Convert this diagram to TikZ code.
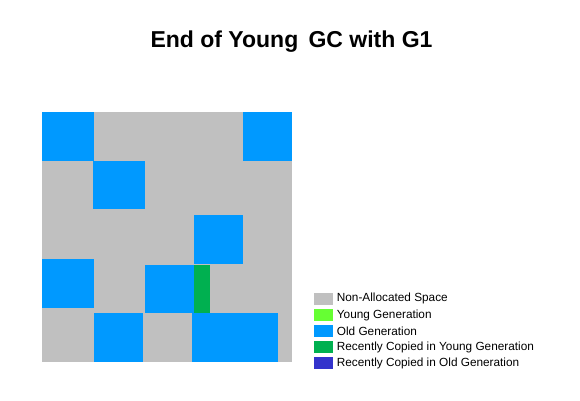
\documentclass[tikz,border=0pt]{standalone}
\usepackage{fontspec}
\setmainfont{Liberation Sans}
\definecolor{nonalloc}{HTML}{C0C0C0}
\definecolor{younggen}{HTML}{66FF33}
\definecolor{oldgen}{HTML}{0099FF}
\definecolor{copyyoung}{HTML}{00B050}
\definecolor{copyold}{HTML}{3333CC}
\begin{document}
\begin{tikzpicture}[x=1pt,y=-1pt,
  region/.style={fill=#1},
  swatch/.style={fill=#1, minimum width=19pt, minimum height=12.3pt, inner sep=0pt, anchor=west},
  legtext/.style={font=\fontsize{11.8}{13}\selectfont, anchor=west, inner sep=0pt},
  title/.style={font=\fontsize{23}{26}\selectfont\bfseries, inner sep=0pt}]
\useasboundingbox[fill=white] (0,0) rectangle (580,400);
\node[title] (title) at (291.5,42) {End of Young\, GC with G1};
% heap area
\fill[region=nonalloc] (42.3,112.3) rectangle (292.3,362.3);
\fill[region=oldgen] (42.3,112.3) rectangle (94,161);
\fill[region=oldgen] (243.3,112.3) rectangle (292.3,161);
\fill[region=oldgen] (93.3,161) rectangle (145,209);
\fill[region=oldgen] (194.3,215) rectangle (243.3,264.3);
\fill[region=oldgen] (42.3,259.3) rectangle (94,307.7);
\fill[region=oldgen] (145,264.7) rectangle (194,312.7);
\fill[region=copyyoung] (194,264.7) rectangle (210,312.7);
\fill[region=oldgen] (94.3,313.3) rectangle (143,362.3);
\fill[region=oldgen] (192.3,313.3) rectangle (278.3,362.3);
% legend
\node[swatch=nonalloc] (s1) at (313.3,298.8) {};
\node[swatch=younggen] (s2) at (313.3,315.2) {};
\node[swatch=oldgen] (s3) at (313.3,331.3) {};
\node[swatch=copyyoung] (s4) at (313.3,347.3) {};
\node[swatch=copyold] (s5) at (313.3,363.3) {};
\node[legtext] (t1) at (336.7,298.8) {Non-Allocated Space};
\node[legtext] (t2) at (336.7,315.2) {Young Generation};
\node[legtext] (t3) at (336.7,331.3) {Old Generation};
\node[legtext] (t4) at (336.7,347.3) {Recently Copied in Young Generation};
\node[legtext] (t5) at (336.7,363.3) {Recently Copied in Old Generation};
\end{tikzpicture}
\end{document}
